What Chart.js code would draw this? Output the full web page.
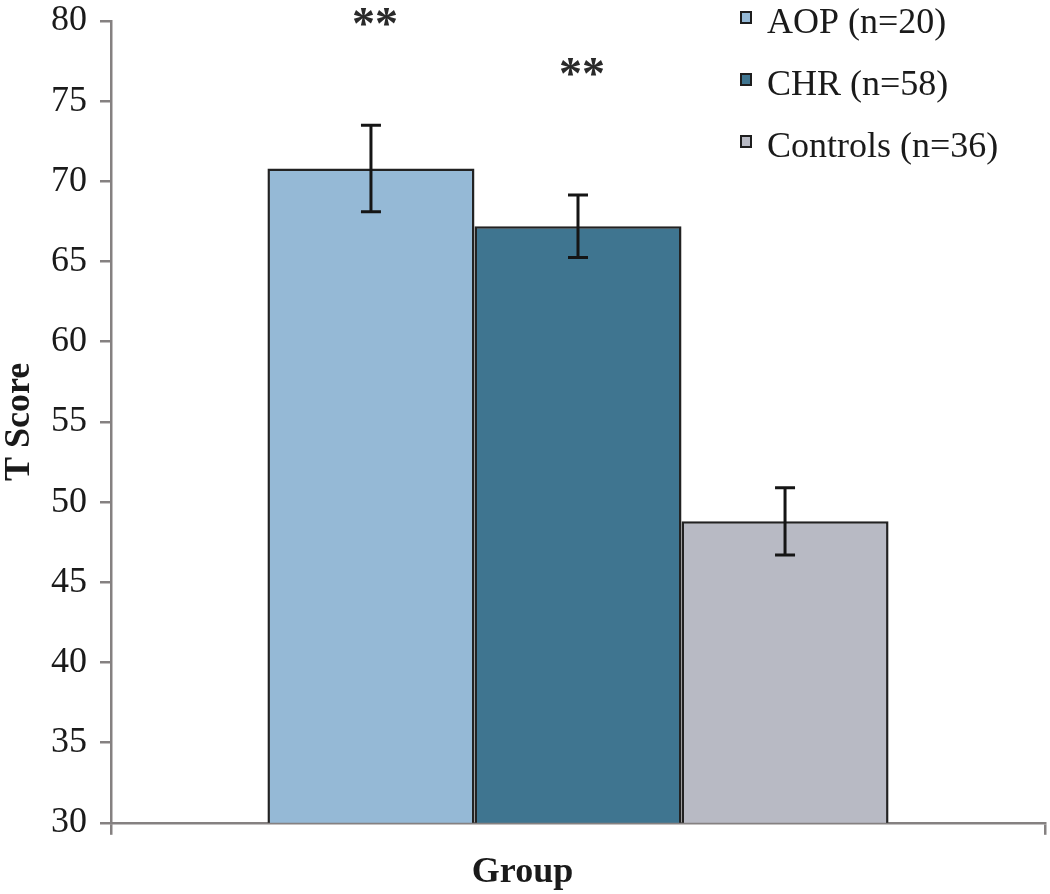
<!DOCTYPE html>
<html><head><meta charset="utf-8">
<script src="https://cdn.jsdelivr.net/npm/chart.js@4.4.0/dist/chart.umd.min.js"></script>
<style>html,body{margin:0;padding:0;background:#fff;} #wrap{width:1050px;height:894px;}</style>
</head><body><div id="wrap"><canvas id="c" width="1050" height="894"></canvas></div>
<script>
const categories = [''];
const groupLabels = ['AOP (n=20)', 'CHR (n=58)', 'Controls (n=36)'];
const groupMeans = [70.8, 67.2, 48.8];
const groupErrors = [2.7, 1.95, 2.1];
const sigMarks = ['**', '**', ''];
const sigLevels = [80.2, 77.1, null];
const groupColors = ['#95b9d6', '#3f7590', '#b8bac4'];
const yMin = 30, yMax = 80, yStep = 5;
const xTitle = 'Group';
const yTitle = 'T Score';

const SERIF = "'Liberation Serif', 'Times New Roman', serif";
const AXIS_COLOR = '#858181';
const TEXT_COLOR = '#1a1a1a';

const errorBarPlugin = {
  id: 'errorBars',
  afterDatasetsDraw(chart) {
    const ctx = chart.ctx, ys = chart.scales.y;
    ctx.save();
    ctx.strokeStyle = '#151515';
    ctx.lineWidth = 3;
    chart.data.datasets.forEach((ds, i) => {
      const meta = chart.getDatasetMeta(i);
      meta.data.forEach((bar, j) => {
        const v = ds.data[j], e = groupErrors[i];
        const x = bar.x;
        const yt = ys.getPixelForValue(v + e), yb = ys.getPixelForValue(v - e);
        ctx.beginPath();
        ctx.moveTo(x, yt); ctx.lineTo(x, yb);
        ctx.moveTo(x - 10, yt); ctx.lineTo(x + 10, yt);
        ctx.moveTo(x - 10, yb); ctx.lineTo(x + 10, yb);
        ctx.stroke();
      });
    });
    ctx.restore();
  }
};

const sigPlugin = {
  id: 'sigMarks',
  afterDatasetsDraw(chart) {
    const ctx = chart.ctx, ys = chart.scales.y;
    ctx.save();
    const size = 46;
    ctx.font = 'bold ' + size + 'px ' + SERIF;
    ctx.fillStyle = '#2a2a2a';
    ctx.textAlign = 'center';
    ctx.textBaseline = 'alphabetic';
    chart.data.datasets.forEach((ds, i) => {
      if (!sigMarks[i]) return;
      const bar = chart.getDatasetMeta(i).data[0];
      const yc = ys.getPixelForValue(sigLevels[i]);
      ctx.fillText(sigMarks[i], bar.x + 4, yc + 0.47 * size);
    });
    ctx.restore();
  }
};

const legendPlugin = {
  id: 'boxLegend',
  afterDraw(chart) {
    const ctx = chart.ctx;
    ctx.save();
    ctx.font = '36px ' + SERIF;
    ctx.textBaseline = 'alphabetic';
    ctx.textAlign = 'left';
    chart.data.datasets.forEach((ds, i) => {
      const base = 33 + i * 62;
      ctx.fillStyle = ds.backgroundColor;
      ctx.fillRect(741, base - 21, 10, 11);
      ctx.strokeStyle = '#1e1e1e';
      ctx.lineWidth = 2;
      ctx.strokeRect(741, base - 21, 10, 11);
      ctx.fillStyle = TEXT_COLOR;
      ctx.fillText(ds.label, 767, base);
    });
    ctx.restore();
  }
};

const datasets = groupLabels.map((lab, i) => ({
  label: lab,
  data: [groupMeans[i]],
  backgroundColor: groupColors[i],
  borderColor: '#222222',
  borderWidth: 2.5,
  borderSkipped: 'bottom',
  categoryPercentage: 0.665,
  barPercentage: 1.0
}));

new Chart(document.getElementById('c'), {
  type: 'bar',
  data: { labels: categories, datasets },
  options: {
    responsive: false,
    animation: false,
    devicePixelRatio: 1,
    layout: { padding: { top: 21, right: 5, bottom: 0, left: 0 } },
    plugins: {
      legend: { display: false },
      tooltip: { enabled: false },
      title: {
        display: true,
        position: 'bottom',
        text: xTitle,
        color: TEXT_COLOR,
        font: { family: SERIF, size: 36, weight: 'bold', lineHeight: 1.2 },
        padding: { top: 0, bottom: 0 }
      }
    },
    scales: {
      x: {
        offset: true,
        grid: { display: true, offset: true, drawOnChartArea: false, drawTicks: true, tickLength: 12, color: AXIS_COLOR, lineWidth: 2.5 },
        border: { display: true, color: AXIS_COLOR, width: 2.5 },
        ticks: { display: true, font: { family: SERIF, size: 10 } },
        afterFit(scale) { scale.height = 28; scale.paddingLeft = 0; scale.paddingRight = 0; }
      },
      y: {
        min: yMin, max: yMax,
        ticks: { stepSize: yStep, color: TEXT_COLOR, padding: 13, font: { family: SERIF, size: 36 } },
        grid: { display: true, drawOnChartArea: false, drawTicks: true, tickLength: 11, color: AXIS_COLOR, lineWidth: 2.5 },
        border: { display: true, color: AXIS_COLOR, width: 2.5 },
        title: { display: true, text: yTitle, color: TEXT_COLOR, font: { family: SERIF, size: 36, weight: 'bold', lineHeight: 1.1 }, padding: { top: 0, bottom: 0 } },
        afterFit(scale) { scale.width = 111; scale.paddingTop = 0; scale.paddingBottom = 0; }
      }
    }
  },
  plugins: [errorBarPlugin, sigPlugin, legendPlugin]
});
</script>
</body></html>
